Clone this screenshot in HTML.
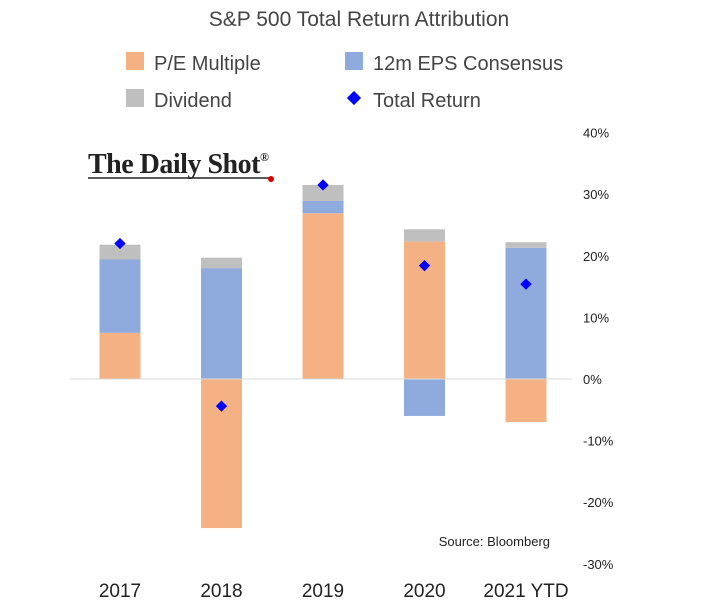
<!DOCTYPE html>
<html><head><meta charset="utf-8"><style>
body{margin:0;background:#fff;}
</style></head><body>
<svg id="chart" width="718" height="610" xmlns="http://www.w3.org/2000/svg" style="font-family:'Liberation Sans',sans-serif">
<text x="359" y="26" text-anchor="middle" font-size="21" fill="#444">S&amp;P 500 Total Return Attribution</text>
<g>
<rect x="126" y="52" width="18" height="18" fill="#f4b183"/>
<text x="154" y="70" font-size="20" fill="#444">P/E Multiple</text>
<rect x="345" y="52" width="18" height="18" fill="#8faadc"/>
<text x="373" y="70" font-size="20" fill="#444">12m EPS Consensus</text>
<rect x="126" y="89" width="18" height="18" fill="#bfbfbf"/>
<text x="154" y="107" font-size="20" fill="#444">Dividend</text>
<rect x="349" y="93" width="10" height="10" fill="#0000ff" transform="rotate(45 354 98)"/>
<text x="373" y="107" font-size="20" fill="#444">Total Return</text>
</g>
<g>
<text x="88" y="173" style="font-family:'Liberation Serif',serif" font-size="28" font-weight="bold" fill="#222" letter-spacing="-0.5">The Daily Shot<tspan font-size="12" dy="-12">®</tspan></text>
<line x1="88" y1="178" x2="270" y2="178" stroke="#222" stroke-width="1.5"/>
<circle cx="271" cy="179" r="3" fill="#d00"/>
</g>
<g id="bars"></g>
<g id="axis"></g>
<text x="550" y="546" text-anchor="end" font-size="13" fill="#222">Source: Bloomberg</text>
</svg>
<script>
const categories=["2017","2018","2019","2020","2021 YTD"];
const peValues=[7.5,-24.2,26.9,22.3,-7.0];
const epsValues=[11.9,18.0,2.0,-6.0,21.3];
const divValues=[2.4,1.7,2.6,2.0,0.9];
const totalValues=[22.0,-4.4,31.5,18.4,15.4];
const tickValues=[40,30,20,10,0,-10,-20,-30];
const NS="http://www.w3.org/2000/svg";
const y=v=>379-v*6.16;
const xc=i=>120+i*101.5;
const bw=41;
const bars=document.getElementById('bars'),axis=document.getElementById('axis');
function mk(tag,attrs,parent){const e=document.createElementNS(NS,tag);for(const k in attrs)e.setAttribute(k,attrs[k]);parent.appendChild(e);return e;}
tickValues.forEach(t=>{
 const tx=mk('text',{x:583,y:y(t)+5,'font-size':13,fill:'#222'},axis);tx.textContent=t+'%';
 
 
});
const zl=mk('line',{x1:70,x2:572,y1:y(0),y2:y(0),stroke:'#d9d9d9'},axis);


categories.forEach((c,i)=>{
 let pos=0,neg=0;
 const segs=[[peValues[i],'#f4b183','pe'],[epsValues[i],'#8faadc','eps'],[divValues[i],'#bfbfbf','dividend']];
 segs.forEach(([v,col,n])=>{
  let a,b;
  if(v>=0){a=pos;b=pos+v;pos=b;}else{a=neg;b=neg+v;neg=b;}
  const r=mk('rect',{x:xc(i)-bw/2,width:bw,y:Math.min(y(a),y(b)),height:Math.abs(y(a)-y(b)),fill:col},bars);
  
  
 });
 const d=mk('rect',{x:xc(i)-4,y:y(totalValues[i])-4,width:8,height:8,fill:'#0000ff',transform:`rotate(45 ${xc(i)} ${y(totalValues[i])})`},bars);
 
 
 const t=mk('text',{x:xc(i),y:597,'text-anchor':'middle','font-size':19,fill:'#222'},axis);t.textContent=c;
 
 
});
</script>
</body></html>
